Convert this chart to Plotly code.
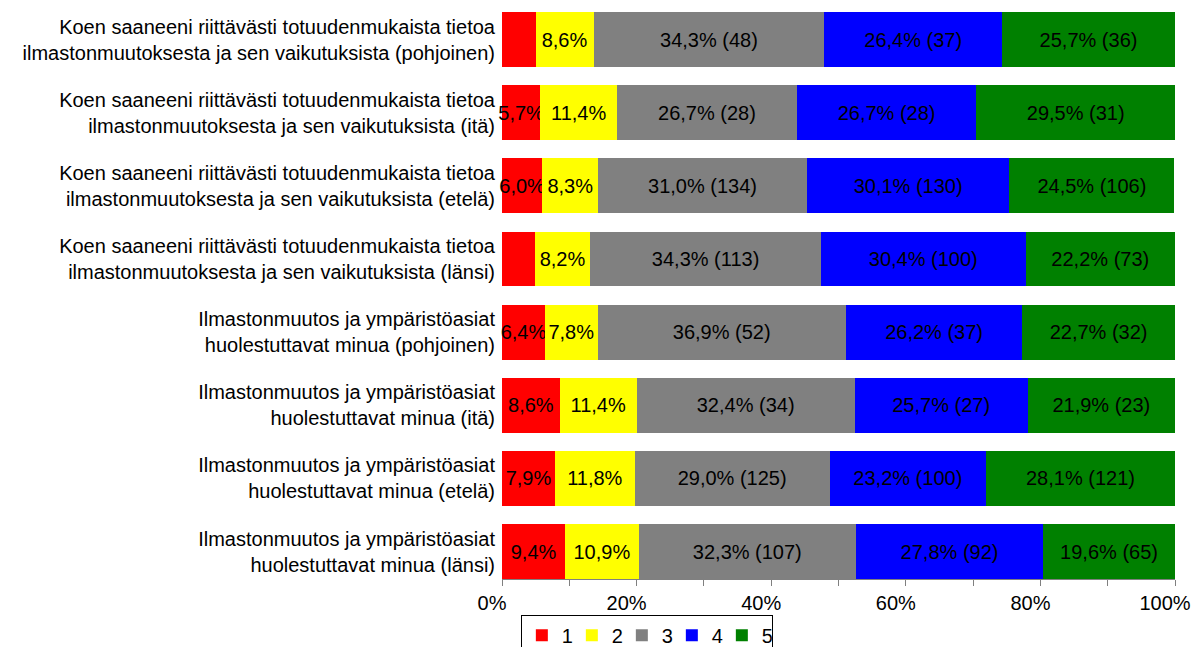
import plotly.graph_objects as go

categories = [
    "Koen saaneeni riittävästi totuudenmukaista tietoa<br>ilmastonmuutoksesta ja sen vaikutuksista (pohjoinen)",
    "Koen saaneeni riittävästi totuudenmukaista tietoa<br>ilmastonmuutoksesta ja sen vaikutuksista (itä)",
    "Koen saaneeni riittävästi totuudenmukaista tietoa<br>ilmastonmuutoksesta ja sen vaikutuksista (etelä)",
    "Koen saaneeni riittävästi totuudenmukaista tietoa<br>ilmastonmuutoksesta ja sen vaikutuksista (länsi)",
    "Ilmastonmuutos ja ympäristöasiat<br>huolestuttavat minua (pohjoinen)",
    "Ilmastonmuutos ja ympäristöasiat<br>huolestuttavat minua (itä)",
    "Ilmastonmuutos ja ympäristöasiat<br>huolestuttavat minua (etelä)",
    "Ilmastonmuutos ja ympäristöasiat<br>huolestuttavat minua (länsi)",
]

# percentages per answer option
pct_1 = [5.0, 5.7, 6.0, 4.9, 6.4, 8.6, 7.9, 9.4]
pct_2 = [8.6, 11.4, 8.3, 8.2, 7.8, 11.4, 11.8, 10.9]
pct_3 = [34.3, 26.7, 31.0, 34.3, 36.9, 32.4, 29.0, 32.3]
pct_4 = [26.4, 26.7, 30.1, 30.4, 26.2, 25.7, 23.2, 27.8]
pct_5 = [25.7, 29.5, 24.5, 22.2, 22.7, 21.9, 28.1, 19.6]

# respondent counts shown in labels
n_3 = [48, 28, 134, 113, 52, 34, 125, 107]
n_4 = [37, 28, 130, 100, 37, 27, 100, 92]
n_5 = [36, 31, 106, 73, 32, 23, 121, 65]

series_names = ["1", "2", "3", "4", "5"]
colors = ["#FF0000", "#FFFF00", "#808080", "#0000FF", "#008000"]


def fmt(p):
    return f"{p:.1f}%".replace(".", ",")


def labels(pcts, counts=None, hide_below=5.5):
    out = []
    for i, p in enumerate(pcts):
        if p < hide_below:
            out.append("")
        elif counts is None:
            out.append(fmt(p))
        else:
            out.append(f"{fmt(p)} ({counts[i]})")
    return out


series = [
    (pct_1, labels(pct_1)),
    (pct_2, labels(pct_2)),
    (pct_3, labels(pct_3, n_3)),
    (pct_4, labels(pct_4, n_4)),
    (pct_5, labels(pct_5, n_5)),
]

font = "Liberation Sans, Arial, sans-serif"

fig = go.Figure()
for (vals, txt), name, color in zip(series, series_names, colors):
    fig.add_trace(go.Bar(
        x=[v / 100 for v in vals],
        y=categories,
        orientation="h",
        name=name,
        marker=dict(color=color, line=dict(width=0)),
        text=txt,
        textposition="inside",
        insidetextanchor="middle",
        textangle=0,
        cliponaxis=False,
        textfont=dict(color="black", size=20, family=font),
        hovertemplate="%{y}<br>" + name + ": %{x:.1%}<extra></extra>",
    ))

fig.update_layout(
    barmode="stack",
    bargap=0.25,
    width=1191,
    height=647,
    margin=dict(l=502, r=16, t=3, b=68, autoexpand=False),
    paper_bgcolor="white",
    plot_bgcolor="white",
    font=dict(family=font, size=20, color="black"),
    uniformtext=dict(minsize=20, mode="show"),
    legend=dict(
        orientation="h",
        x=0.028,
        y=-0.062,
        xanchor="left",
        yanchor="top",
        bordercolor="black",
        borderwidth=1,
        font=dict(size=20),
        traceorder="normal",
        entrywidth=5,
        entrywidthmode="pixels",
    ),
    xaxis=dict(
        range=[0, 1],
        dtick=0.2,
        tickformat=".0%",
        ticks="outside",
        ticklen=6,
        tickcolor="#808080",
        ticklabelshift=-10,
        ticklabeloverflow="allow",
        showgrid=False,
        zeroline=False,
        showline=True,
        linecolor="#808080",
        automargin=False,
        minor=dict(dtick=0.1, ticks="outside", ticklen=6, tickcolor="#808080"),
    ),
    yaxis=dict(
        range=[7.376, -0.5],
        showgrid=False,
        zeroline=False,
        ticks="",
        ticklabelstandoff=6,
        automargin=False,
    ),
)

# drop the default page margin so the figure sits at the window's corner
fig.write_html(
    "out.html",
    config={"displayModeBar": False},
    post_script="document.body.style.margin='0';",
)
